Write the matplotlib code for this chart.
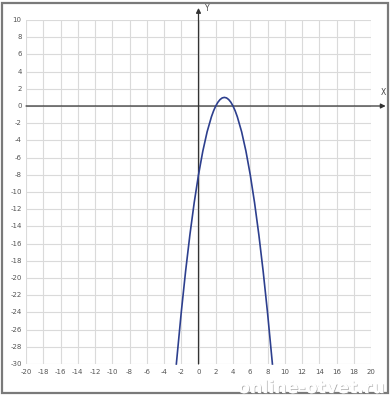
import matplotlib
matplotlib.use("Agg")
import matplotlib.pyplot as plt
import matplotlib.patheffects as pe
from matplotlib.patches import Rectangle

# points
curve_x = [-2.57, -2, -1.5, -1, -0.5, 0, 0.5, 1, 1.5, 1.75, 2, 2.25, 2.5, 2.75, 3,
           3.25, 3.5, 3.75, 4, 4.25, 4.5, 5, 5.5, 6, 6.5, 7, 7.5, 8, 8.57]
curve_y = [-30, -24, -19.25, -15, -11.25, -8, -5.25, -3, -1.25, -0.56, 0, 0.44, 0.75, 0.94, 1,
           0.94, 0.75, 0.44, 0, -0.56, -1.25, -3, -5.25, -8, -11.25, -15, -19.25, -24, -30]

x_ticks = list(range(-20, 21, 2))
y_ticks = list(range(-30, 11, 2))

W, H = 392, 400
fig = plt.figure(figsize=(W / 100, H / 100), dpi=100)

# outer frame
fig.patches.append(Rectangle((1.5 / W, 7.5 / H), 386 / W, 389.5 / H,
                             transform=fig.transFigure, fill=False,
                             edgecolor="#7a7a7a", lw=1.6))

# plot area: x -20..20 -> px 26..371, y -30..10 -> px 364..20
ax = fig.add_axes([26 / W, (H - 364) / H, 345 / W, 344 / H])
ax.set_xlim(-20, 20)
ax.set_ylim(-30, 10)
for s in ax.spines.values():
    s.set_visible(False)
ax.set_xticks([])
ax.set_yticks([])

for xv in x_ticks:
    ax.plot([xv, xv], [-30, 10], color="#dadada", lw=0.8, zorder=1)
for yv in y_ticks:
    ax.plot([-20, 20], [yv, yv], color="#dadada", lw=0.8, zorder=1)

# axes with arrows
ax.annotate("", xy=(21.7, 0), xytext=(-20, 0), annotation_clip=False,
            arrowprops=dict(arrowstyle="-|>", color="#333333", lw=0.9,
                            mutation_scale=7, shrinkA=0, shrinkB=0), zorder=3)
ax.annotate("", xy=(0, 11.4), xytext=(0, -30), annotation_clip=False,
            arrowprops=dict(arrowstyle="-|>", color="#333333", lw=0.9,
                            mutation_scale=7, shrinkA=0, shrinkB=0), zorder=3)
ax.text(21.4, 1.0, "X", fontsize=5.5, color="#444444", ha="center", va="bottom",
        clip_on=False)
ax.text(0.7, 11.3, "Y", fontsize=5.5, color="#444444", ha="left", va="center",
        clip_on=False)

for xv in x_ticks:
    ax.text(xv, -30.6, str(xv), fontsize=5, color="#555555", ha="center",
            va="top", clip_on=False)
for yv in y_ticks:
    ax.text(-20.5, yv, str(yv), fontsize=5, color="#555555", ha="right",
            va="center", clip_on=False)

ax.plot(curve_x, curve_y, color="#2d3f8e", lw=1.2, zorder=4, clip_on=False,
        solid_joinstyle="round")

fig.text(385 / W, (H - 388) / H, "online-otvet.ru", fontsize=12.5,
         fontweight="bold", color="white", ha="right", va="center",
         path_effects=[pe.withSimplePatchShadow(offset=(0.6, -0.6),
                                                shadow_rgbFace="#9a9a9a", alpha=0.8),
                       pe.Normal()])

fig.savefig("out.png", dpi=100)
